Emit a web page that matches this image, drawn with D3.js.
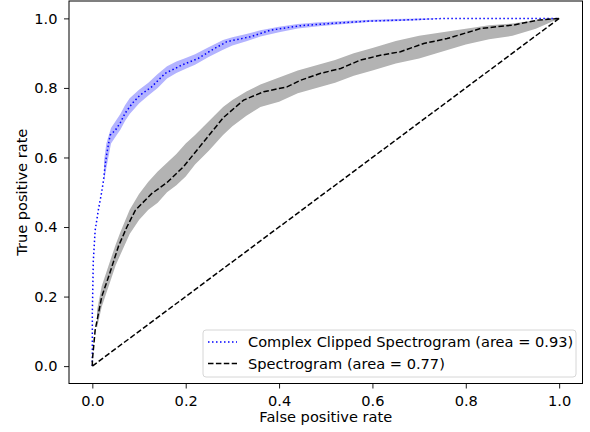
<!DOCTYPE html>
<html>
<head>
<meta charset="utf-8">
<script src="https://cdn.jsdelivr.net/npm/d3@7"></script>
<style>
  html, body { margin: 0; padding: 0; background: #fff; }
  svg text { font-family: "DejaVu Sans", sans-serif; fill: #000; }
</style>
</head>
<body>
<div id="chart"></div>
<script>
// ROC curve points: [fpr, tpr]
const complexCurve = [
    [0, 0], [0, 0.15], [0.002, 0.30], [0.006, 0.39], [0.013, 0.45], [0.02, 0.50],
    [0.024, 0.535], [0.027, 0.573], [0.031, 0.611], [0.038, 0.664], [0.049, 0.678],
    [0.06, 0.70], [0.07, 0.727], [0.085, 0.755], [0.102, 0.779], [0.127, 0.803],
    [0.156, 0.842], [0.192, 0.866], [0.227, 0.885], [0.256, 0.909], [0.288, 0.933],
    [0.338, 0.947], [0.381, 0.966], [0.446, 0.979], [0.517, 0.986], [0.589, 0.992],
    [0.66, 0.995], [0.76, 1.0], [1, 1]
];
const spectroCurve = [
    [0, 0], [0, 0.016], [0.006, 0.103], [0.02, 0.199], [0.038, 0.27], [0.056, 0.345],
    [0.074, 0.40], [0.092, 0.448], [0.127, 0.496], [0.16, 0.528], [0.195, 0.573],
    [0.224, 0.621], [0.253, 0.669], [0.281, 0.715], [0.324, 0.765], [0.367, 0.789],
    [0.417, 0.803], [0.446, 0.822], [0.489, 0.842], [0.532, 0.856], [0.574, 0.88],
    [0.617, 0.894], [0.66, 0.904], [0.71, 0.928], [0.76, 0.942], [0.832, 0.971],
    [0.903, 0.981], [0.954, 0.995], [1, 1]
];

// std bands: [fpr, lower, upper]
const complexBand = [
    [0.025, 0.53, 0.59], [0.03, 0.57, 0.64], [0.04, 0.64, 0.685], [0.05, 0.66, 0.705],
    [0.06, 0.68, 0.725], [0.07, 0.705, 0.75], [0.08, 0.725, 0.77], [0.10, 0.755, 0.795],
    [0.12, 0.778, 0.815], [0.14, 0.80, 0.84], [0.16, 0.827, 0.862], [0.18, 0.843, 0.876],
    [0.20, 0.855, 0.886], [0.22, 0.867, 0.897], [0.25, 0.89, 0.918], [0.28, 0.91, 0.938],
    [0.30, 0.922, 0.946], [0.33, 0.934, 0.955], [0.36, 0.948, 0.966], [0.40, 0.96, 0.976],
    [0.44, 0.971, 0.984], [0.48, 0.977, 0.988], [0.52, 0.982, 0.991], [0.56, 0.986, 0.994],
    [0.60, 0.99, 0.996], [0.65, 0.992, 0.998], [0.70, 0.995, 1.0], [0.75, 1.0, 1.0],
    [1.0, 1.0, 1.0]
];
const spectroBand = [
    [0.01, 0.11, 0.16], [0.02, 0.17, 0.23], [0.03, 0.21, 0.27], [0.04, 0.25, 0.31],
    [0.05, 0.29, 0.35], [0.06, 0.32, 0.385], [0.08, 0.38, 0.45], [0.10, 0.42, 0.495],
    [0.12, 0.45, 0.53], [0.14, 0.47, 0.56], [0.16, 0.50, 0.585], [0.18, 0.52, 0.61],
    [0.20, 0.545, 0.64], [0.22, 0.58, 0.665], [0.25, 0.62, 0.705], [0.28, 0.665, 0.745],
    [0.30, 0.69, 0.765], [0.33, 0.72, 0.79], [0.36, 0.745, 0.81], [0.40, 0.76, 0.83],
    [0.44, 0.785, 0.85], [0.48, 0.80, 0.865], [0.52, 0.815, 0.88], [0.56, 0.835, 0.90],
    [0.60, 0.85, 0.915], [0.65, 0.87, 0.935], [0.70, 0.885, 0.95], [0.75, 0.905, 0.96],
    [0.80, 0.925, 0.97], [0.85, 0.94, 0.98], [0.90, 0.95, 0.985], [0.95, 0.97, 0.995],
    [1.0, 1.0, 1.0]
];
const chanceLine = [[0, 0], [1, 1]];

const tickValues = [0, 0.2, 0.4, 0.6, 0.8, 1.0];
const legendLabels = [
    "Complex Clipped Spectrogram (area = 0.93)",
    "Spectrogram (area = 0.77)"
];

const width = 590, height = 432;
const plot = { left: 69, right: 582.5, top: 1, bottom: 383.5 };
const fontSize = "14.6px";

const svg = d3.select("#chart").append("svg")
    .attr("width", width)
    .attr("height", height);

const x = d3.scaleLinear().domain([-0.05, 1.05]).range([plot.left, plot.right]);
const y = d3.scaleLinear().domain([-0.05, 1.05]).range([plot.bottom, plot.top]);

const line = d3.line().x(d => x(d[0])).y(d => y(d[1]));
const area = d3.area().x(d => x(d[0])).y0(d => y(d[1])).y1(d => y(d[2]));

// bands
svg.append("path").datum(complexBand)
    .attr("d", area)
    .attr("fill", "rgb(179,179,255)");
svg.append("path").datum(spectroBand)
    .attr("d", area)
    .attr("fill", "rgb(179,179,179)");

// curves
svg.append("path").datum(complexCurve)
    .attr("d", line)
    .attr("fill", "none")
    .attr("stroke", "#0000ff")
    .attr("stroke-width", 1.5)
    .attr("stroke-dasharray", "1.5,2.5");
svg.append("path").datum(spectroCurve)
    .attr("d", line)
    .attr("fill", "none")
    .attr("stroke", "#000")
    .attr("stroke-width", 1.5)
    .attr("stroke-dasharray", "5.5,2.4");
svg.append("path").datum(chanceLine)
    .attr("d", line)
    .attr("fill", "none")
    .attr("stroke", "#000")
    .attr("stroke-width", 1.5)
    .attr("stroke-dasharray", "5.5,2.4");

// axes
const xAxis = svg.append("g")
    .attr("transform", `translate(0,${plot.bottom})`)
    .call(d3.axisBottom(x).tickValues(tickValues).tickFormat(d3.format(".1f")).tickSizeOuter(0).tickSize(5).tickPadding(7));
const yAxis = svg.append("g")
    .attr("transform", `translate(${plot.left},0)`)
    .call(d3.axisLeft(y).tickValues(tickValues).tickFormat(d3.format(".1f")).tickSizeOuter(0).tickSize(5).tickPadding(6.5));
[xAxis, yAxis].forEach(g => {
    g.select(".domain").remove();
    g.selectAll("text").style("font-family", "DejaVu Sans").style("font-size", fontSize).attr("fill", "#000");
    g.selectAll("line").attr("stroke", "#000").attr("stroke-width", 0.9);
});

// frame
svg.append("rect")
    .attr("x", plot.left).attr("y", plot.top)
    .attr("width", plot.right - plot.left).attr("height", plot.bottom - plot.top)
    .attr("fill", "none").attr("stroke", "#000").attr("stroke-width", 1);

// axis titles
svg.append("text")
    .attr("x", (plot.left + plot.right) / 2).attr("y", 422)
    .attr("text-anchor", "middle")
    .style("font-size", fontSize)
    .text("False positive rate");
svg.append("text")
    .attr("transform", `translate(27,${(plot.top + plot.bottom) / 2}) rotate(-90)`)
    .attr("text-anchor", "middle")
    .style("font-size", fontSize)
    .text("True positive rate");

// legend
const legend = svg.append("g");
legend.append("rect")
    .attr("x", 203).attr("y", 330).attr("width", 373).attr("height", 47)
    .attr("rx", 3)
    .attr("fill", "rgba(255,255,255,0.8)")
    .attr("stroke", "#d6d6d6");
const legendStyles = [
    { color: "#0000ff", dash: "1.5,2.5" },
    { color: "#000", dash: "5.5,2.4" }
];
legendLabels.forEach((label, i) => {
    const ly = 342 + i * 21.5;
    legend.append("line")
        .attr("x1", 208).attr("x2", 237)
        .attr("y1", ly).attr("y2", ly)
        .attr("stroke", legendStyles[i].color)
        .attr("stroke-width", 1.5)
        .attr("stroke-dasharray", legendStyles[i].dash);
    legend.append("text")
        .attr("x", 248).attr("y", ly + 5)
        .style("font-size", fontSize)
        .text(label);
});
</script>
</body>
</html>
